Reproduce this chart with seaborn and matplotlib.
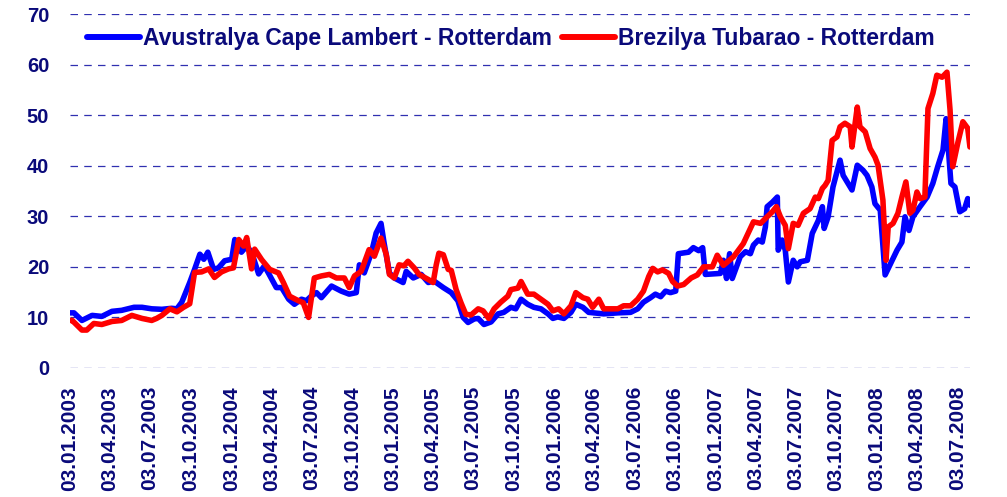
import pandas as pd
import matplotlib
matplotlib.use("Agg")
import matplotlib.pyplot as plt
import seaborn as sns

# weekly freight rates (USD/ton)
blue_label = "Avustralya Cape Lambert - Rotterdam"
red_label = "Brezilya Tubarao - Rotterdam"

blue_dates = [
    "2003-01-03", "2003-01-12", "2003-01-30", "2003-02-22", "2003-03-16", "2003-04-08", "2003-04-30",
    "2003-05-28", "2003-06-15", "2003-07-07", "2003-07-30", "2003-08-21", "2003-09-02", "2003-09-13",
    "2003-10-01", "2003-10-12", "2003-10-24", "2003-11-02", "2003-11-11", "2003-11-24", "2003-12-05",
    "2003-12-19", "2004-01-04", "2004-01-11", "2004-01-26", "2004-02-07", "2004-02-18", "2004-03-05",
    "2004-03-18", "2004-03-27", "2004-04-14", "2004-04-26", "2004-05-12", "2004-05-25", "2004-06-10",
    "2004-06-21", "2004-07-02", "2004-07-14", "2004-07-25", "2004-08-17", "2004-09-08", "2004-09-26",
    "2004-10-12", "2004-10-19", "2004-10-30", "2004-11-15", "2004-11-26", "2004-12-07", "2004-12-14",
    "2004-12-26", "2005-01-06", "2005-01-26", "2005-02-02", "2005-02-18", "2005-03-08", "2005-03-24",
    "2005-04-06", "2005-04-27", "2005-05-15", "2005-05-30", "2005-06-11", "2005-06-22", "2005-07-06",
    "2005-07-15", "2005-07-28", "2005-08-13", "2005-08-29", "2005-09-11", "2005-09-27", "2005-10-08",
    "2005-10-20", "2005-11-04", "2005-11-18", "2005-12-04", "2005-12-20", "2005-12-31", "2006-01-11",
    "2006-01-25", "2006-02-10", "2006-02-21", "2006-03-09", "2006-03-22", "2006-04-25", "2006-05-27",
    "2006-06-25", "2006-07-11", "2006-07-24", "2006-08-09", "2006-08-20", "2006-09-01", "2006-09-12",
    "2006-09-23", "2006-10-05", "2006-10-11", "2006-11-03", "2006-11-14", "2006-11-26", "2006-12-05",
    "2006-12-11", "2007-01-14", "2007-01-21", "2007-01-28", "2007-02-04", "2007-02-10", "2007-02-28",
    "2007-03-12", "2007-03-23", "2007-03-30", "2007-04-10", "2007-04-19", "2007-04-26", "2007-04-30",
    "2007-05-12", "2007-05-23", "2007-05-25", "2007-06-03", "2007-06-10", "2007-06-17", "2007-06-28",
    "2007-07-07", "2007-07-14", "2007-07-30", "2007-08-10", "2007-08-24", "2007-09-02", "2007-09-06",
    "2007-09-15", "2007-09-26", "2007-10-12", "2007-10-19", "2007-11-08", "2007-11-20", "2007-12-03",
    "2007-12-12", "2007-12-23", "2007-12-30", "2008-01-11", "2008-01-22", "2008-02-07", "2008-02-18",
    "2008-02-29", "2008-03-07", "2008-03-16", "2008-03-25", "2008-04-10", "2008-04-26", "2008-05-09",
    "2008-05-20", "2008-06-01", "2008-06-08", "2008-06-19", "2008-06-28", "2008-07-09", "2008-07-20",
    "2008-07-27", "2008-08-01",
]
blue_vals = [
    10.9, 10.9, 9.4, 10.4, 10.2, 11.2, 11.4,
    12.0, 12.0, 11.7, 11.6, 11.8, 11.7, 13.0,
    16.9, 19.5, 22.5, 21.5, 22.9, 19.5, 19.8,
    21.2, 21.5, 25.4, 22.9, 24.1, 22.9, 18.6,
    20.2, 18.8, 15.9, 15.9, 13.6, 12.6, 13.6,
    13.3, 14.2, 14.9, 13.9, 16.2, 15.2, 14.6,
    14.9, 20.4, 18.8, 22.7, 26.7, 28.6, 24.7,
    18.8, 17.8, 16.9, 19.1, 17.8, 18.5, 16.9,
    17.2, 15.9, 14.9, 13.3, 10.0, 9.0, 9.7,
    9.8, 8.6, 9.1, 10.7, 11.0, 12.0, 11.7,
    13.6, 12.6, 12.0, 11.7, 10.7, 9.8, 10.1,
    9.8, 11.0, 12.6, 12.0, 11.0, 10.7, 10.9,
    11.0, 11.7, 13.0, 13.9, 14.6, 14.1, 15.2,
    14.9, 15.2, 22.6, 22.9, 23.8, 23.2, 23.8,
    18.5, 18.7, 21.3, 17.7, 22.6, 17.7, 22.0,
    23.0, 22.6, 24.3, 25.3, 24.9, 27.9, 31.9,
    32.8, 33.8, 23.3, 25.3, 23.3, 17.0, 21.3,
    20.0, 21.0, 21.3, 26.6, 29.2, 31.9, 27.6,
    29.9, 35.8, 41.1, 38.1, 35.2, 40.1, 39.1,
    38.1, 35.8, 32.5, 31.2, 18.4, 21.3, 23.3,
    24.9, 29.9, 27.2, 29.9, 31.9, 33.8, 36.5,
    39.8, 43.1, 49.3, 36.5, 35.8, 30.9, 31.5,
    33.5, 32.2,
]

red_dates = [
    "2003-01-03", "2003-01-08", "2003-01-30", "2003-02-10", "2003-02-26", "2003-03-16", "2003-04-08",
    "2003-04-30", "2003-05-23", "2003-06-15", "2003-07-07", "2003-07-18", "2003-07-30", "2003-08-17",
    "2003-09-02", "2003-09-17", "2003-10-01", "2003-10-12", "2003-10-28", "2003-11-13", "2003-11-26",
    "2003-12-12", "2003-12-28", "2004-01-08", "2004-01-20", "2004-01-31", "2004-02-07", "2004-02-18",
    "2004-02-25", "2004-03-12", "2004-03-30", "2004-04-19", "2004-04-30", "2004-05-14", "2004-06-03",
    "2004-06-14", "2004-06-26", "2004-07-09", "2004-07-25", "2004-08-12", "2004-08-28", "2004-09-15",
    "2004-09-26", "2004-10-08", "2004-10-23", "2004-11-10", "2004-11-22", "2004-12-07", "2004-12-19",
    "2004-12-26", "2005-01-06", "2005-01-17", "2005-01-28", "2005-02-06", "2005-02-20", "2005-03-03",
    "2005-03-24", "2005-04-04", "2005-04-11", "2005-04-17", "2005-04-27", "2005-05-08", "2005-05-15",
    "2005-05-26", "2005-06-06", "2005-06-17", "2005-06-29", "2005-07-15", "2005-07-26", "2005-08-08",
    "2005-08-20", "2005-09-04", "2005-09-20", "2005-09-27", "2005-10-13", "2005-10-20", "2005-11-04",
    "2005-11-18", "2005-12-04", "2005-12-20", "2005-12-31", "2006-01-13", "2006-01-25", "2006-02-10",
    "2006-02-21", "2006-03-09", "2006-03-20", "2006-03-31", "2006-04-14", "2006-04-25", "2006-05-27",
    "2006-06-09", "2006-06-25", "2006-07-11", "2006-07-24", "2006-08-05", "2006-08-14", "2006-08-25",
    "2006-09-05", "2006-09-19", "2006-09-28", "2006-10-09", "2006-10-23", "2006-11-09", "2006-11-23",
    "2006-12-07", "2006-12-27", "2007-01-07", "2007-01-21", "2007-02-13", "2007-03-07", "2007-03-30",
    "2007-04-15", "2007-04-30", "2007-05-12", "2007-05-21", "2007-05-30", "2007-06-10", "2007-06-17",
    "2007-06-28", "2007-07-09", "2007-07-21", "2007-08-05", "2007-08-17", "2007-08-24", "2007-09-02",
    "2007-09-08", "2007-09-15", "2007-09-24", "2007-10-05", "2007-10-12", "2007-10-23", "2007-11-04",
    "2007-11-08", "2007-11-15", "2007-11-20", "2007-11-26", "2007-12-08", "2007-12-19", "2007-12-30",
    "2008-01-06", "2008-01-17", "2008-01-24", "2008-01-29", "2008-02-09", "2008-02-20", "2008-02-29",
    "2008-03-09", "2008-03-18", "2008-03-25", "2008-04-03", "2008-04-10", "2008-04-21", "2008-04-28",
    "2008-05-09", "2008-05-18", "2008-05-30", "2008-06-10", "2008-06-17", "2008-06-23", "2008-07-05",
    "2008-07-16", "2008-07-27", "2008-08-01",
]
red_vals = [
    9.4, 9.4, 7.5, 7.5, 8.8, 8.6, 9.2,
    9.4, 10.4, 9.8, 9.4, 9.8, 10.4, 11.7,
    11.1, 12.0, 12.7, 18.9, 19.0, 19.6, 17.9,
    19.0, 19.6, 19.8, 25.4, 24.1, 25.8, 19.6,
    23.5, 21.4, 19.5, 18.8, 16.9, 14.2, 13.3,
    12.9, 10.0, 17.8, 18.2, 18.5, 17.8, 17.8,
    15.9, 18.2, 19.1, 23.4, 22.1, 25.7, 22.4,
    18.5, 17.8, 20.4, 20.2, 21.1, 19.8, 18.5,
    17.5, 16.9, 20.4, 22.7, 22.4, 19.5, 19.3,
    15.5, 12.9, 10.6, 10.5, 11.7, 11.3, 9.8,
    11.7, 13.0, 14.2, 15.5, 15.8, 17.1, 14.6,
    14.6, 13.6, 12.6, 11.3, 11.7, 10.7, 12.3,
    14.9, 13.9, 13.6, 12.0, 13.6, 11.7, 11.7,
    12.3, 12.3, 13.6, 15.2, 18.1, 19.7, 19.0,
    19.4, 18.7, 17.1, 16.2, 16.5, 17.8, 18.4,
    20.0, 20.0, 22.3, 20.3, 22.0, 24.6, 28.9,
    28.6, 29.9, 30.9, 31.9, 29.9, 28.2, 23.6,
    28.6, 28.2, 30.6, 31.5, 33.8, 33.5, 35.5,
    36.1, 37.1, 45.0, 45.7, 47.7, 48.4, 47.7,
    43.7, 48.4, 51.6, 47.7, 46.7, 43.4, 41.7,
    40.1, 33.2, 21.3, 27.9, 28.6, 30.6, 33.8,
    36.8, 30.6, 31.2, 34.8, 33.5, 33.8, 51.3,
    54.3, 57.9, 57.5, 58.5, 51.0, 39.8, 44.7,
    48.7, 47.4, 43.7,
]

y_ticks = [0, 10, 20, 30, 40, 50, 60, 70]
# quarterly ticks on the 3rd, 03.01.2003 ... 03.07.2008
x_ticks = [pd.Timestamp(y, m, 3) for y in range(2003, 2009) for m in (1, 4, 7, 10)][:-1]

df = pd.concat([
    pd.DataFrame({"date": pd.to_datetime(blue_dates), "value": blue_vals, "route": blue_label}),
    pd.DataFrame({"date": pd.to_datetime(red_dates), "value": red_vals, "route": red_label}),
])

navy = "#0a0a7a"
sns.set_style("white")
plt.rcParams["font.family"] = ["Liberation Sans", "DejaVu Sans"]

fig = plt.figure(figsize=(10.07, 4.97), dpi=100)
ax = fig.add_axes([0.0695, 0.2596, 0.8937, 0.7122])

sns.lineplot(data=df, x="date", y="value", hue="route",
             palette={blue_label: "#0000ff", red_label: "#ff0000"},
             linewidth=4.0, estimator=None, sort=False, ax=ax)

ax.set_ylim(0, 70)
ax.set_yticks(y_ticks)
ax.set_xlim(pd.Timestamp("2003-01-03"), pd.Timestamp("2008-08-01"))
ax.set_xticks(x_ticks)
ax.set_xticklabels([d.strftime("%d.%m.%Y") for d in x_ticks], rotation=90)
ax.set_xlabel("")
ax.set_ylabel("")

ax.yaxis.grid(True, color="#3030b0", linestyle=(0, (6, 5)), linewidth=0.9)
ax.xaxis.grid(False)
ax.set_axisbelow(True)
for s in ax.spines.values():
    s.set_visible(False)

ax.tick_params(axis="y", length=0, pad=15, labelsize=14.5, labelcolor=navy)
ax.tick_params(axis="x", length=0, pad=13, labelsize=15, labelcolor=navy)
for lab in ax.get_xticklabels() + ax.get_yticklabels():
    lab.set_fontweight("bold")

handles, labels = ax.get_legend_handles_labels()
leg = ax.legend(handles, labels, ncol=2, loc="center", bbox_to_anchor=(0.49, 0.932),
                frameon=False, handlelength=2.3, handletextpad=0.15, columnspacing=0.45,
                prop={"weight": "bold", "size": 16.5}, labelcolor=navy)
for h in leg.get_lines():
    h.set_linewidth(4.3)

fig.savefig("out.png", dpi=100)
